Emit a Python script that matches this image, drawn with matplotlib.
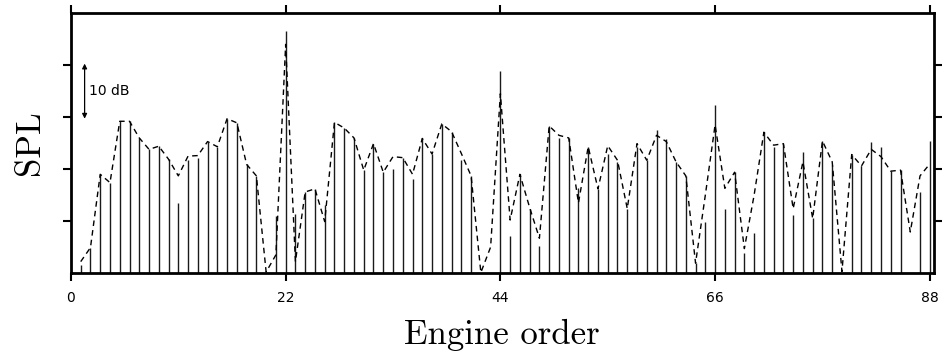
import numpy as np
import matplotlib.pyplot as plt

# Engine orders and sound pressure levels (dB above the plot floor)
orders = np.arange(1, 89)
spl_measured = [
    1.5, 4.9, 19.0, 17.4, 29.2, 29.2, 26.0, 23.8, 24.4, 21.9,
    13.4, 21.8, 22.1, 25.3, 24.3, 29.7, 28.9, 20.9, 18.7, 0.0,
    11.0, 46.6, 11.3, 15.6, 16.2, 13.1, 29.0, 27.9, 26.0, 19.8,
    24.9, 19.4, 20.1, 22.1, 18.1, 25.9, 22.9, 28.7, 27.2, 21.7,
    18.7, 0.0, 0.0, 38.8, 7.1, 19.0, 12.4, 5.2, 28.3, 25.9,
    26.0, 16.3, 24.3, 16.2, 22.9, 21.4, 12.4, 24.3, 21.7, 27.5,
    25.7, 21.4, 18.7, 1.9, 9.9, 32.4, 12.3, 19.4, 3.9, 7.8,
    27.1, 24.3, 24.9, 11.2, 23.2, 10.5, 25.4, 20.8, 0.0, 22.8,
    20.6, 25.3, 24.3, 19.6, 19.8, 0.0, 15.6, 25.4,
]
spl_model = [
    2.2, 4.9, 19.0, 17.4, 29.2, 29.2, 26.0, 23.8, 24.4, 21.9,
    18.7, 22.5, 22.6, 25.3, 24.3, 29.7, 28.9, 20.9, 18.7, 0.2,
    3.5, 44.0, 2.2, 15.6, 16.2, 9.9, 29.0, 27.9, 26.0, 19.8,
    24.9, 19.4, 22.4, 22.2, 19.0, 25.9, 22.9, 28.7, 27.2, 23.0,
    18.7, 0.1, 5.0, 34.5, 10.2, 19.0, 12.6, 6.7, 28.3, 26.5,
    26.0, 13.5, 24.3, 16.2, 24.5, 21.7, 12.4, 24.9, 21.7, 26.5,
    25.3, 21.4, 18.7, 1.9, 15.0, 28.5, 16.3, 19.4, 4.7, 15.0,
    27.1, 24.6, 24.9, 12.4, 21.4, 10.5, 25.4, 21.4, 0.3, 22.8,
    20.6, 23.8, 22.4, 19.6, 19.8, 7.9, 18.7, 21.0,
]
xticks = [0, 22, 44, 66, 88]
yticks = [10, 20, 30, 40]

fig = plt.figure(figsize=(9.46, 3.56), dpi=100)
ax = fig.add_axes([0.075, 0.233, 0.912, 0.730])

ax.vlines(orders, 0, spl_measured, color='#1a1a1a', lw=1.0)
ax.plot(orders, spl_model, color='k', lw=1.0, ls=(0, (4, 3)))

# scale bar
ax.annotate('', xy=(1.4, 40.3), xytext=(1.4, 29.7),
            arrowprops=dict(arrowstyle='<|-|>', color='k', lw=0.9,
                            mutation_scale=7, shrinkA=0, shrinkB=0))
ax.text(1.9, 35, '10 dB', fontsize=10, va='center', ha='left')

ax.set_xlim(0, 88.4)
ax.set_ylim(0, 50)
ax.set_xticks(xticks)
ax.set_yticks(yticks)
ax.set_yticklabels([])
ax.tick_params(direction='out', length=6, width=1.5, labelsize=10,
               top=True, right=True, pad=7)
for s in ax.spines.values():
    s.set_linewidth(2)

ax.set_xlabel('Engine order', fontfamily='cmr10', fontsize=25, labelpad=10)
ax.set_ylabel('SPL', fontfamily='cmr10', fontsize=25, labelpad=5)

fig.savefig('out.png', dpi=100)
